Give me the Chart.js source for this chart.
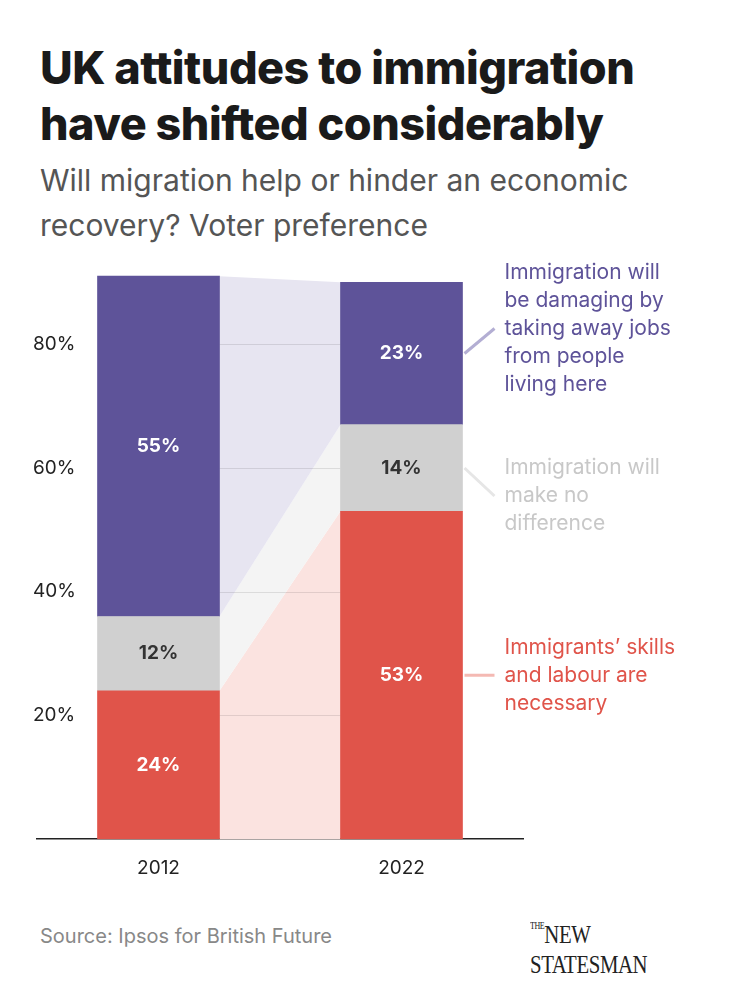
<!DOCTYPE html>
<html><head><meta charset="utf-8">
<script src="https://cdn.jsdelivr.net/npm/chart.js@4"></script>
<style>
body{margin:0;width:752px;height:994px;background:#fff;font-family:Inter,"Noto Sans",sans-serif;position:relative;overflow:hidden}
h1{position:absolute;left:40px;top:40px;margin:0;font-size:45px;line-height:56px;font-weight:800;color:#1a1a1a;letter-spacing:-0.5px}
.sub{position:absolute;left:40px;top:158px;font-size:30px;line-height:45px;color:#555}
#wrap{position:absolute;left:0;top:260px;width:752px;height:630px}
.src{position:absolute;left:40px;top:924px;font-size:20px;color:#888}
.logo{position:absolute;left:530px;top:920px;font-family:"Liberation Serif",serif;font-size:26px;color:#222;transform:scaleX(0.8);transform-origin:left;letter-spacing:-0.5px}
.logo small{font-size:10px;vertical-align:top}
</style></head><body>
<h1>UK attitudes to immigration<br>have shifted considerably</h1>
<div class="sub">Will migration help or hinder an economic<br>recovery? Voter preference</div>
<div id="wrap"><canvas id="c"></canvas></div>
<div class="src">Source: Ipsos for British Future</div>
<div class="logo"><small>THE</small>NEW STATESMAN</div>
<script>
// data
var years = ['2012', '2022'];
var necessary = [24, 53];
var noDifference = [12, 14];
var damaging = [55, 23];
var seriesNames = [
  ['Immigrants\u2019 skills', 'and labour are', 'necessary'],
  ['Immigration will', 'make no', 'difference'],
  ['Immigration will', 'be damaging by', 'taking away jobs', 'from people', 'living here']
];
var barColors = ['#E0544A', '#D0D0D0', '#5E5399'];
var bandColors = ['#FBE3E0', '#F4F4F4', '#E7E5F1'];
var textColors = ['#E0544A', '#C8C8C8', '#5E5399'];
var yTicks = [20, 40, 60, 80];

var half = 61;
var decor = {
  id: 'decor',
  beforeDatasetsDraw: function (chart) {
    var ctx = chart.ctx, x = chart.scales.x, y = chart.scales.y;
    var x1 = x.getPixelForValue(0) + half, x2 = x.getPixelForValue(1) - half;
    var sets = chart.data.datasets;
    ctx.save();
    var b1 = 0, b2 = 0;
    sets.forEach(function (ds, i) {
      var t1 = b1 + ds.data[0], t2 = b2 + ds.data[1];
      ctx.fillStyle = bandColors[i];
      ctx.beginPath();
      ctx.moveTo(x1, y.getPixelForValue(b1));
      ctx.lineTo(x1, y.getPixelForValue(t1));
      ctx.lineTo(x2, y.getPixelForValue(t2));
      ctx.lineTo(x2, y.getPixelForValue(b2));
      ctx.closePath(); ctx.fill();
      b1 = t1; b2 = t2;
    });
    ctx.strokeStyle = 'rgba(0,0,0,0.1)'; ctx.lineWidth = 1;
    yTicks.forEach(function (v) {
      var py = Math.round(y.getPixelForValue(v)) + 0.5;
      ctx.beginPath(); ctx.moveTo(x1, py); ctx.lineTo(x2, py); ctx.stroke();
    });
    ctx.restore();
  },
  afterDatasetsDraw: function (chart) {
    var ctx = chart.ctx, x = chart.scales.x, y = chart.scales.y;
    var sets = chart.data.datasets;
    ctx.save();
    ctx.textAlign = 'center'; ctx.textBaseline = 'middle';
    ctx.font = 'bold 19px Inter, sans-serif';
    [0, 1].forEach(function (j) {
      var b = 0;
      sets.forEach(function (ds, i) {
        var t = b + ds.data[j];
        ctx.fillStyle = i === 1 ? '#333' : '#fff';
        ctx.fillText(ds.data[j] + '%', x.getPixelForValue(j), y.getPixelForValue((b + t) / 2));
        b = t;
      });
    });
    // right-side labels
    var xe = x.getPixelForValue(1) + half;
    var b = 0;
    ctx.textAlign = 'left'; ctx.textBaseline = 'middle';
    ctx.font = '21px Inter, sans-serif';
    sets.forEach(function (ds, i) {
      var t = b + ds.data[1];
      var mid = y.getPixelForValue((b + t) / 2);
      var lines = seriesNames[i], lh = 28;
      var cy = i === 2 ? mid - 25 : (i === 1 ? mid + 28 : mid);
      var top = cy - (lines.length - 1) * lh / 2;
      ctx.strokeStyle = bandColors[i] === '#F4F4F4' ? '#E6E6E6' : (i === 0 ? '#F4B9B3' : '#B3AED3');
      ctx.lineWidth = 3;
      ctx.beginPath(); ctx.moveTo(xe + 2, mid); ctx.lineTo(xe + 32, cy); ctx.stroke();
      ctx.fillStyle = textColors[i];
      lines.forEach(function (l, k) { ctx.fillText(l, xe + 42, top + k * lh); });
      b = t;
    });
    ctx.restore();
  }
};

new Chart(document.getElementById('c'), {
  type: 'bar',
  data: {
    labels: years,
    datasets: [
      { data: necessary, backgroundColor: barColors[0] },
      { data: noDifference, backgroundColor: barColors[1] },
      { data: damaging, backgroundColor: barColors[2] }
    ]
  },
  options: {
    responsive: true, maintainAspectRatio: false, animation: false,
    layout: { padding: { left: 37, right: 229, top: 10, bottom: 0 } },
    plugins: { legend: { display: false }, tooltip: { enabled: false } },
    datasets: { bar: { barThickness: 122 } },
    scales: {
      x: {
        stacked: true, offset: true,
        grid: { display: false },
        border: { display: true, color: '#222', width: 1.5 },
        ticks: { color: '#222', font: { size: 19, family: 'Inter' }, padding: 10 }
      },
      y: {
        stacked: true, min: 0, max: 92,
        afterBuildTicks: function (s) { s.ticks = yTicks.map(function (v) { return { value: v }; }); },
        grid: { display: false }, border: { display: false },
        ticks: { mirror: true, padding: -4, color: '#222', font: { size: 19, family: 'Inter' },
          callback: function (v) { return v + '%'; } }
      }
    }
  },
  plugins: [decor]
});
</script>
</body></html>
